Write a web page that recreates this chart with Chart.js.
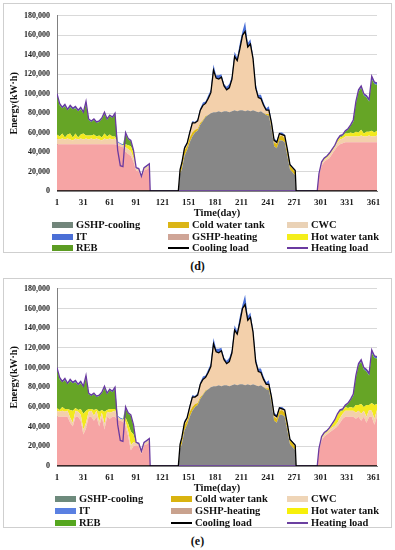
<!DOCTYPE html>
<html>
<head>
<meta charset="utf-8">
<script src="https://cdn.jsdelivr.net/npm/chart.js"></script>
<style>
  body { margin: 0; width: 395px; height: 550px; background: #fff; position: relative; overflow: hidden;
         font-family: 'Liberation Serif', 'Times New Roman', serif; }
  .box { position: absolute; border: 1px solid #cfcfcf; box-sizing: border-box; }
  canvas { position: absolute; }
  .caption { position: absolute; left: 0; width: 395px; text-align: center; font-weight: bold; font-size: 12px; color: #111; }
  .leg { position: absolute; font-weight: bold; font-size: 10.5px; line-height: 12px; white-space: nowrap; color: #111; }
  .leg i { position: absolute; left: 0; top: 3px; width: 21px; height: 6px; }
  .leg i.line { top: 5px; height: 1.5px; }
</style>
</head>
<body>
<div class="box" style="left:3px;top:3px;width:389px;height:250px"></div>
<div class="box" style="left:3px;top:278px;width:389px;height:250px"></div>
<canvas id="chartD" width="386" height="218" style="left:4px;top:4px"></canvas>
<canvas id="chartE" width="386" height="220" style="left:4px;top:277px"></canvas>
<div class="caption" style="top:259px">(d)</div>
<div class="caption" style="top:534px">(e)</div>
<script>
// sampled days (heating season 1 | gap | cooling season | gap | heating season 2)
const days = [1,4,7,10,13,16,19,22,25,28,31,34,37,40,43,46,49,52,55,58,61,64,67,70,73,76,79,82,85,88,91,94,97,100,103,106,
  107,139,
  141,143,146,149,152,155,158,161,164,167,170,173,176,179,182,185,188,191,194,197,200,203,206,209,212,215,218,221,224,227,230,233,236,239,242,245,248,251,254,257,260,263,266,269,272,
  273,297,
  299,302,305,308,311,314,317,320,323,326,329,332,335,338,341,344,347,350,353,356,359,362,365];
const dayTicks = [1,31,61,91,121,151,181,211,241,271,301,331,361];
const Y_MAX = 180000, Y_STEP = 20000;

// loads (same in both panels), kWh
const heatingLoad = [100e3,90e3,86e3,89e3,84e3,88e3,85e3,87e3,83e3,86e3,81e3,92e3,74e3,72e3,74e3,71e3,72e3,75e3,81e3,74e3,78e3,76e3,80e3,42e3,26e3,25e3,60e3,54e3,52e3,42e3,24e3,23e3,15e3,24e3,26e3,28e3,
  0,0,
  0,0,0,0,0,0,0,0,0, 0,0,0,0,0,0,0,0,0, 0,0,0,0,0,0,0,0,0, 0,0,0,0,0,0,0,0,0, 0,0,0,0,0,0,0,0,0,
  0,0,
  18e3,30e3,34e3,36e3,39e3,43e3,47e3,53e3,57e3,58e3,62e3,64e3,68e3,73e3,92e3,104e3,108e3,100e3,98e3,94e3,118e3,112e3,111e3];
const coolingLoad = [0,0,0,0,0,0,0,0,0, 0,0,0,0,0,0,0,0,0, 0,0,0,0,0,0,0,0,0, 0,0,0,0,0,0,0,0,0,
  0,0,
  22e3,29e3,44e3,49e3,60e3,70e3,70e3,72e3,83e3,88e3,90e3,95e3,101e3,124e3,116e3,115e3,117e3,108e3,104e3,106e3,115e3,138e3,134e3,146e3,160e3,164e3,148e3,151e3,136e3,106e3,96e3,95e3,88e3,83e3,83e3,70e3,52e3,50e3,59e3,58e3,57e3,43e3,27e3,24e3,21e3,
  0,0,
  0,0,0,0,0,0,0,0,0, 0,0,0,0,0,0,0,0,0, 0,0,0,0,0];

// components shared by both panels
const gshpCooling = [0,0,0,0,0,0,0,0,0, 0,0,0,0,0,0,0,0,0, 0,0,0,0,0,0,0,0,0, 0,0,0,0,0,0,0,0,0,
  0,0,
  18e3,22e3,36e3,42e3,50e3,56e3,60e3,62e3,68e3,72e3,76e3,78e3,80e3,81e3,81e3,82e3,81e3,82e3,82e3,81e3,82e3,83e3,82e3,83e3,83e3,82e3,83e3,82e3,83e3,82e3,81e3,82e3,80e3,78e3,77e3,64e3,46e3,44e3,52e3,52e3,50e3,36e3,22e3,19e3,16e3,
  0,0,
  0,0,0,0,0,0,0,0,0, 0,0,0,0,0,0,0,0,0, 0,0,0,0,0];
const coldTank = [0,0,0,0,0,0,0,0,0, 0,0,0,0,0,0,0,0,0, 0,0,0,0,0,0,0,0,0, 0,0,0,0,0,0,0,0,0,
  0,0,
  3e3,5e3,6e3,4e3,5e3,4e3,3e3,2e3,2e3,1e3,1e3,
  0,0,0,0,0,0,0,0,0,0,0, 0,0,0,0,0,0,0,0,0,0,0,
  1e3,2e3,3e3,4e3,4e3,4e3,5e3,4e3,5e3,4e3,4e3,3e3,
  0,0,
  0,0,0,0,0,0,0,0,0, 0,0,0,0,0,0,0,0,0, 0,0,0,0,0];
const cwc = [6e3,5e3,6e3,5e3,6e3,5e3,4e3,6e3,5e3,6e3,5e3,6e3,5e3,6e3,5e3,6e3,5e3,4e3,6e3,5e3,6e3,5e3,6e3,3e3,2e3,2e3,5e3,5e3,5e3,4e3,2e3,2e3,1e3,2e3,3e3,3e3,
  0,0,
  1e3,2e3,2e3,3e3,5e3,10e3,7e3,8e3,13e3,15e3,13e3,17e3,21e3,43e3,35e3,33e3,36e3,26e3,22e3,25e3,33e3,55e3,52e3,63e3,77e3,82e3,65e3,69e3,53e3,24e3,15e3,13e3,8e3,4e3,4e3,3e3,2e3,2e3,3e3,1e3,3e3,2e3,1e3,1e3,2e3,
  0,0,
  1e3,2e3,2e3,2e3,3e3,3e3,3e3,4e3,5e3,5e3,6e3,6e3,6e3,6e3,6e3,6e3,7e3,6e3,6e3,7e3,6e3,6e3,7e3];
const it = [2e3,2e3,1e3,2e3,1e3,2e3,1e3,2e3,1e3,2e3,1e3,2e3,1e3,1e3,1e3,1e3,1e3,1e3,2e3,1e3,1e3,1e3,2e3,1e3,1e3,1e3,1e3,1e3,1e3,1e3,1e3,1e3,1e3,1e3,1e3,1e3,
  0,0,
  1e3,1e3,2e3,1e3,2e3,2e3,1e3,2e3,2e3,3e3,2e3,3e3,3e3,6e3,3e3,4e3,3e3,2e3,3e3,4e3,3e3,5e3,3e3,6e3,4e3,10e3,4e3,5e3,3e3,4e3,3e3,4e3,3e3,2e3,4e3,2e3,2e3,2e3,1e3,2e3,1e3,1e3,1e3,1e3,1e3,
  0,0,
  1e3,1e3,1e3,1e3,1e3,1e3,1e3,1e3,1e3,1e3,1e3,1e3,1e3,2e3,2e3,2e3,2e3,2e3,2e3,2e3,3e3,2e3,2e3];

// panel (d) heating components
const gshpHeatingD = [48e3,48e3,48e3,48e3,48e3,48e3,48e3,48e3,48e3,48e3,48e3,48e3,48e3,48e3,48e3,48e3,48e3,48e3,48e3,48e3,48e3,48e3,48e3,47e3,46e3,45e3,40e3,38e3,36e3,30e3,21e3,20e3,13e3,21e3,22e3,24e3,
  0,0,
  0,0,0,0,0,0,0,0,0, 0,0,0,0,0,0,0,0,0, 0,0,0,0,0,0,0,0,0, 0,0,0,0,0,0,0,0,0, 0,0,0,0,0,0,0,0,0,
  0,0,
  16e3,26e3,30e3,32e3,34e3,38e3,42e3,46e3,48e3,49e3,50e3,50e3,50e3,50e3,50e3,50e3,50e3,50e3,50e3,50e3,50e3,50e3,50e3];
const hotTankD = [4e3,3e3,5e3,2e3,4e3,6e3,3e3,5e3,2e3,4e3,6e3,3e3,4e3,3e3,5e3,2e3,4e3,3e3,5e3,3e3,4e3,3e3,2e3,0,0,0,3e3,4e3,5e3,5e3,0,0,0,0,0,0,
  0,0,
  0,0,0,0,0,0,0,0,0, 0,0,0,0,0,0,0,0,0, 0,0,0,0,0,0,0,0,0, 0,0,0,0,0,0,0,0,0, 0,0,0,0,0,0,0,0,0,
  0,0,
  0,1e3,1e3,1e3,1e3,1e3,1e3,2e3,2e3,2e3,3e3,3e3,4e3,3e3,5e3,4e3,6e3,3e3,5e3,4e3,6e3,4e3,5e3];
const rebD = [40e3,32e3,26e3,32e3,25e3,27e3,29e3,26e3,27e3,26e3,21e3,33e3,16e3,14e3,15e3,14e3,14e3,19e3,20e3,17e3,19e3,19e3,22e3,0,0,0,11e3,6e3,5e3,2e3,0,0,0,0,0,0,
  0,0,
  0,0,0,0,0,0,0,0,0, 0,0,0,0,0,0,0,0,0, 0,0,0,0,0,0,0,0,0, 0,0,0,0,0,0,0,0,0, 0,0,0,0,0,0,0,0,0,
  0,0,
  0,0,0,0,0,0,0,0,1e3,1e3,2e3,4e3,7e3,12e3,29e3,42e3,43e3,39e3,35e3,31e3,53e3,50e3,47e3];

// panel (e) heating components
const gshpHeatingE = [50e3,50e3,50e3,50e3,50e3,44e3,40e3,50e3,50e3,46e3,32e3,38e3,50e3,50e3,46e3,50e3,40e3,50e3,37e3,50e3,48e3,50e3,50e3,47e3,46e3,45e3,40e3,30e3,16e3,20e3,21e3,20e3,12e3,21e3,22e3,24e3,
  0,0,
  0,0,0,0,0,0,0,0,0, 0,0,0,0,0,0,0,0,0, 0,0,0,0,0,0,0,0,0, 0,0,0,0,0,0,0,0,0, 0,0,0,0,0,0,0,0,0,
  0,0,
  16e3,26e3,30e3,32e3,34e3,36e3,38e3,40e3,44e3,48e3,50e3,50e3,50e3,50e3,48e3,50e3,46e3,50e3,44e3,50e3,50e3,42e3,50e3];
const hotTankE = [3e3,2e3,4e3,3e3,2e3,8e3,12e3,3e3,2e3,6e3,16e3,12e3,3e3,2e3,6e3,2e3,10e3,3e3,12e3,2e3,4e3,3e3,2e3,0,0,0,4e3,8e3,14e3,8e3,0,0,1e3,0,0,0,
  0,0,
  0,0,0,0,0,0,0,0,0, 0,0,0,0,0,0,0,0,0, 0,0,0,0,0,0,0,0,0, 0,0,0,0,0,0,0,0,0, 0,0,0,0,0,0,0,0,0,
  0,0,
  0,1e3,1e3,1e3,1e3,3e3,5e3,8e3,6e3,3e3,4e3,3e3,4e3,3e3,8e3,6e3,10e3,4e3,12e3,5e3,8e3,14e3,6e3];
const rebE = [39e3,31e3,25e3,29e3,25e3,29e3,28e3,26e3,25e3,26e3,27e3,34e3,15e3,13e3,16e3,12e3,16e3,17e3,24e3,16e3,19e3,17e3,20e3,0,0,0,10e3,10e3,16e3,9e3,0,0,0,0,0,0,
  0,0,
  0,0,0,0,0,0,0,0,0, 0,0,0,0,0,0,0,0,0, 0,0,0,0,0,0,0,0,0, 0,0,0,0,0,0,0,0,0, 0,0,0,0,0,0,0,0,0,
  0,0,
  0,0,0,0,0,0,0,0,1e3,1e3,1e3,4e3,7e3,12e3,28e3,40e3,43e3,38e3,34e3,30e3,51e3,48e3,46e3];

const legendLabels = ['GSHP-cooling','Cold water tank','CWC','IT','GSHP-heating','Hot water tank','REB','Cooling load','Heating load'];
const legendColorsD = ['#72867b','#dbb516','#ead2b6','#4b6fd6','#cfa597','#f4ee1a','#5c9c22','#000000','#6a3aa0'];
const legendColorsE = ['#6d8a7c','#d9b30f','#efd5b7','#5a80e2','#c9a28e','#f7f00a','#55a61f','#000000','#6b40a0'];

Chart.defaults.font.family = "'Liberation Serif', 'Times New Roman', serif";

function makeChart(id, gshpHeating, hotTank, reb) {
  // bottom-to-top stacking order
  const areas = [
    ['GSHP-cooling', gshpCooling, '#878787'],
    ['GSHP-heating', gshpHeating, '#f6a4a4'],
    ['Cold water tank', coldTank, '#dfba12'],
    ['CWC', cwc, '#f3d0ab'],
    ['Hot water tank', hotTank, '#f2ea1e'],
    ['REB', reb, '#66a526'],
    ['IT', it, '#4a6fd6']
  ];
  const datasets = areas.map(([label, data, color], i) => ({
    label, data, backgroundColor: color, borderWidth: 0, pointRadius: 0,
    fill: i === 0 ? 'origin' : '-1', order: 1
  }));
  datasets.push({ label: 'Cooling load', data: coolingLoad, borderColor: '#000', borderWidth: 1.3,
    pointRadius: 0, fill: false, stack: 'cool', order: 0 });
  datasets.push({ label: 'Heating load', data: heatingLoad, borderColor: '#6a3aa0', borderWidth: 1.3,
    pointRadius: 0, fill: false, stack: 'heat', order: 0 });

  return new Chart(document.getElementById(id), {
    type: 'line',
    data: { labels: days, datasets },
    options: {
      responsive: false,
      animation: false,
      layout: { padding: { top: 6, right: 13, left: 0, bottom: 0 } },
      elements: { line: { tension: 0 } },
      plugins: { legend: { display: false }, tooltip: { enabled: false } },
      scales: {
        x: {
          type: 'linear', min: 1, max: 365,
          afterBuildTicks: s => { s.ticks = dayTicks.map(v => ({ value: v })); },
          afterFit: s => { s.height = 31; },
          grid: { display: false, drawTicks: false },
          border: { display: true, color: '#808080' },
          ticks: { font: { size: 9, weight: 'bold' }, color: '#222', padding: 6, maxRotation: 0, autoSkip: false },
          title: { display: true, text: 'Time(day)', font: { size: 10.5, weight: 'bold' }, color: '#111',
                   padding: { top: 0, bottom: 2 } }
        },
        y: {
          stacked: true, min: 0, max: Y_MAX,
          afterFit: s => { s.width = 53; },
          grid: { color: '#d9d9d9', drawTicks: false },
          border: { display: true, color: '#808080' },
          ticks: { stepSize: Y_STEP, font: { size: 8, weight: 'bold' }, color: '#222', padding: 7 },
          title: { display: true, text: 'Energy(kW·h)', font: { size: 10, weight: 'bold' }, color: '#111',
                   padding: { top: 4, bottom: 0 } }
        }
      }
    }
  });
}

function makeLegend(colors, cols, rows) {
  legendLabels.forEach((name, i) => {
    const el = document.createElement('div');
    el.className = 'leg';
    el.style.left = cols[i % 3] + 'px';
    el.style.top = (rows[Math.floor(i / 3)] - 6) + 'px';
    el.style.paddingLeft = '24px';
    const sw = document.createElement('i');
    if (name.endsWith('load')) sw.className = 'line';
    sw.style.background = colors[i];
    el.appendChild(sw);
    el.appendChild(document.createTextNode(name));
    document.body.appendChild(el);
  });
}

makeChart('chartD', gshpHeatingD, hotTankD, rebD);
makeChart('chartE', gshpHeatingE, hotTankE, rebE);
makeLegend(legendColorsD, [52, 168, 287], [225, 237, 248]);
makeLegend(legendColorsE, [55, 171, 287], [499, 511, 523]);
</script>
</body>
</html>
